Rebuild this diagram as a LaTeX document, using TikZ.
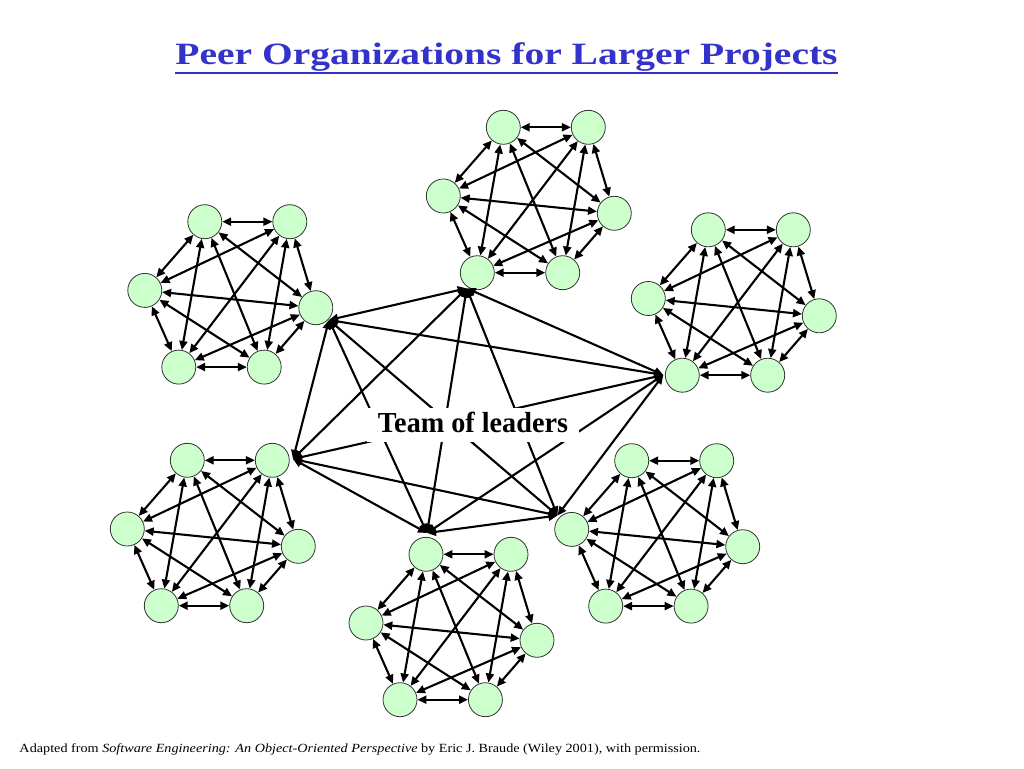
\documentclass[tikz,border=0pt]{standalone}
\usepackage{fontspec}
\setmainfont{Liberation Serif}
\usetikzlibrary{arrows.meta}
\definecolor{titleblue}{RGB}{51,51,204}
\definecolor{nodegreen}{RGB}{204,255,204}
\tikzset{
  member/.style={circle, draw=black!80, line width=0.8pt, fill=nodegreen, minimum size=34pt, inner sep=0pt},
  link/.style={line width=2.1pt, {Triangle[length=9pt,width=8pt]}-{Triangle[length=9pt,width=8pt]}},
  labelbox/.style={fill=white, inner xsep=11pt, inner ysep=0pt, text height=24.7pt, text depth=9.3pt, anchor=base},
}
\newcommand{\mkcluster}[3]{%
  \begin{scope}[shift={(#2,#3)}]
    \node[member] (#1a) at (503.3,127.3) {};
    \node[member] (#1b) at (588.3,127.3) {};
    \node[member] (#1c) at (443.3,196) {};
    \node[member] (#1d) at (614.3,213.3) {};
    \node[member] (#1e) at (477.3,272.7) {};
    \node[member] (#1f) at (562.7,272.7) {};
  \end{scope}
  \foreach \u/\v in {a/b,b/d,d/f,f/e,e/c,c/a,a/e,a/f,a/d,b/c,b/e,b/f,c/d,c/f,d/e}
    \draw[link] (#1\u) -- (#1\v);
}
\begin{document}
\begin{tikzpicture}[x=1pt,y=-1pt]
\path[use as bounding box] (0,0) rectangle (1024,768);

\mkcluster{T}{0}{0}
\mkcluster{U}{-298.5}{94.4}
\mkcluster{R}{205}{102.5}
\mkcluster{L}{-316}{333}
\mkcluster{B}{-77.3}{427}
\mkcluster{S}{128.4}{333.4}

% leader anchor points
\coordinate (lt) at (466.7,288.3);
\coordinate (lu) at (329,320);
\coordinate (lr) at (663.3,375);
\coordinate (ll) at (293,459);
\coordinate (lb) at (427,533);
\coordinate (ls) at (557.5,515.5);

\foreach \p/\q in {lt/lu,lt/lr,lt/ll,lt/lb,lt/ls,lu/lr,lu/ll,lu/lb,lu/ls,lr/ll,lr/lb,lr/ls,ll/lb,ll/ls,lb/ls}
  \draw[link] (\p) -- (\q);

\node[labelbox] (lbl) at (473,432.7) {\resizebox{190pt}{\height}{\fontsize{29}{34}\selectfont\bfseries Team of leaders}};

\node[inner sep=0pt, anchor=base, text=titleblue] (title) at (506.5,64)
  {\resizebox{662pt}{\height}{\fontsize{31}{36}\selectfont\bfseries Peer Organizations for Larger Projects}};
\draw[titleblue, line width=2pt] ([yshift=-9.4pt]title.base west) -- ([yshift=-9.4pt]title.base east);

\node[inner sep=0pt, anchor=base west] (foot) at (19.3,752.5)
  {\resizebox{681pt}{\height}{\fontsize{12.5}{15}\selectfont Adapted from \textit{Software Engineering: An Object-Oriented Perspective} by Eric J. Braude (Wiley 2001), with permission.}};
\end{tikzpicture}
\end{document}
